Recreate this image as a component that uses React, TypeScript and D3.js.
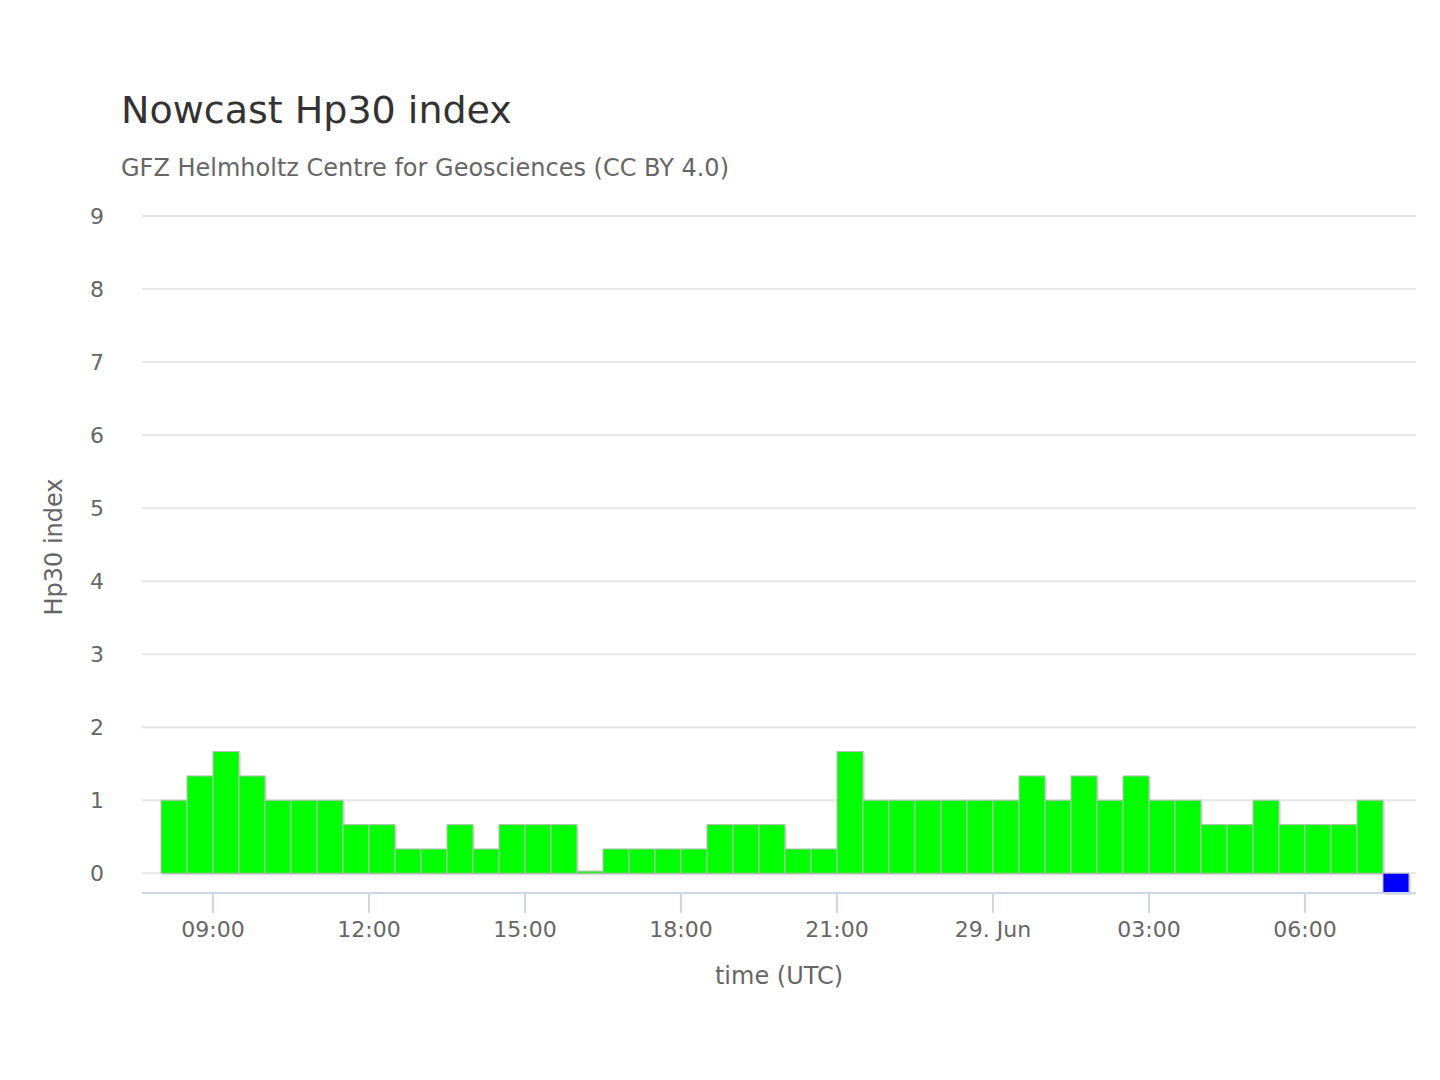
import React from "react";
import * as d3 from "d3";

const startTime = Date.UTC(2024, 5, 28, 8, 0);
const hp30Values = [1, 1.333, 1.667, 1.333, 1, 1, 1, 0.667, 0.667, 0.333, 0.333, 0.667, 0.333, 0.667, 0.667, 0.667, 0.03, 0.333, 0.333, 0.333, 0.333, 0.667, 0.667, 0.667, 0.333, 0.333, 1.667, 1, 1, 1, 1, 1, 1, 1.333, 1, 1.333, 1, 1.333, 1, 1, 0.667, 0.667, 1, 0.667, 0.667, 0.667, 1, -0.27];
const barColors = hp30Values.map((_, i) => (i === hp30Values.length - 1 ? "#0000ff" : "#00ff00"));
const yTicks = [0, 1, 2, 3, 4, 5, 6, 7, 8, 9];
const xTickHours = [9, 12, 15, 18, 21, 24, 27, 30];
const xTickLabels = ["09:00", "12:00", "15:00", "18:00", "21:00", "29. Jun", "03:00", "06:00"];

export default function App() {
  const H = 3600e3;
  const x = d3.scaleLinear().domain([startTime + 0.75 * H, startTime + 24 * H]).range([205 - 0.75 * 52 + 0 * 0, 205 + 23 * 52]);
  // x(startTime + 1h) = 205 ; 52px per hour
  const xs = d3.scaleLinear().domain([startTime + H, startTime + 4 * H]).range([205, 361]);
  const y = d3.scaleLinear().domain([-0.27, 9]).range([885, 208]);
  const font = "'DejaVu Sans', sans-serif";
  void x;
  return (
    <svg width={1424} height={1060} style={{ display: "block" }}>
      <rect width={1424} height={1060} fill="#fff" />
      <text x={113} y={115} fontFamily={font} fontSize={38} fill="#333">Nowcast Hp30 index</text>
      <text x={113} y={168} fontFamily={font} fontSize={24} fill="#666">GFZ Helmholtz Centre for Geosciences (CC BY 4.0)</text>
      {yTicks.map((t) => (
        <g key={t}>
          <line x1={134} x2={1408} y1={y(t)} y2={y(t)} stroke="#e6e6e6" strokeWidth={2} />
          <text x={96} y={y(t) + 8} textAnchor="end" fontFamily={font} fontSize={22} fill="#666">{t}</text>
        </g>
      ))}
      <text transform={`translate(54,539) rotate(-90)`} textAnchor="middle" fontFamily={font} fontSize={24} fill="#666">Hp30 index</text>
      {hp30Values.map((v, i) => {
        const t0 = startTime + i * 0.5 * H;
        const x0 = xs(t0), x1 = xs(t0 + 0.5 * H);
        const ya = y(Math.max(v, 0)), yb = y(Math.min(v, 0));
        return (
          <g key={i}>
            <rect x={x0 + 2} y={ya + 2} width={x1 - x0} height={yb - ya} fill="#000" opacity={0.12} />
            <rect x={x0} y={ya} width={x1 - x0} height={yb - ya} fill={barColors[i]} stroke="#bbb" strokeWidth={1} />
          </g>
        );
      })}
      <line x1={134} x2={1408} y1={885} y2={885} stroke="#ccd6eb" strokeWidth={2} />
      {xTickHours.map((h, i) => {
        const px = xs(startTime + (h - 8) * H);
        return (
          <g key={h}>
            <line x1={px} x2={px} y1={885} y2={905} stroke="#ccd6eb" strokeWidth={2} />
            <text x={px} y={929} textAnchor="middle" fontFamily={font} fontSize={22} fill="#666">{xTickLabels[i]}</text>
          </g>
        );
      })}
      <text x={771} y={976} textAnchor="middle" fontFamily={font} fontSize={24} fill="#666">time (UTC)</text>
    </svg>
  );
}
